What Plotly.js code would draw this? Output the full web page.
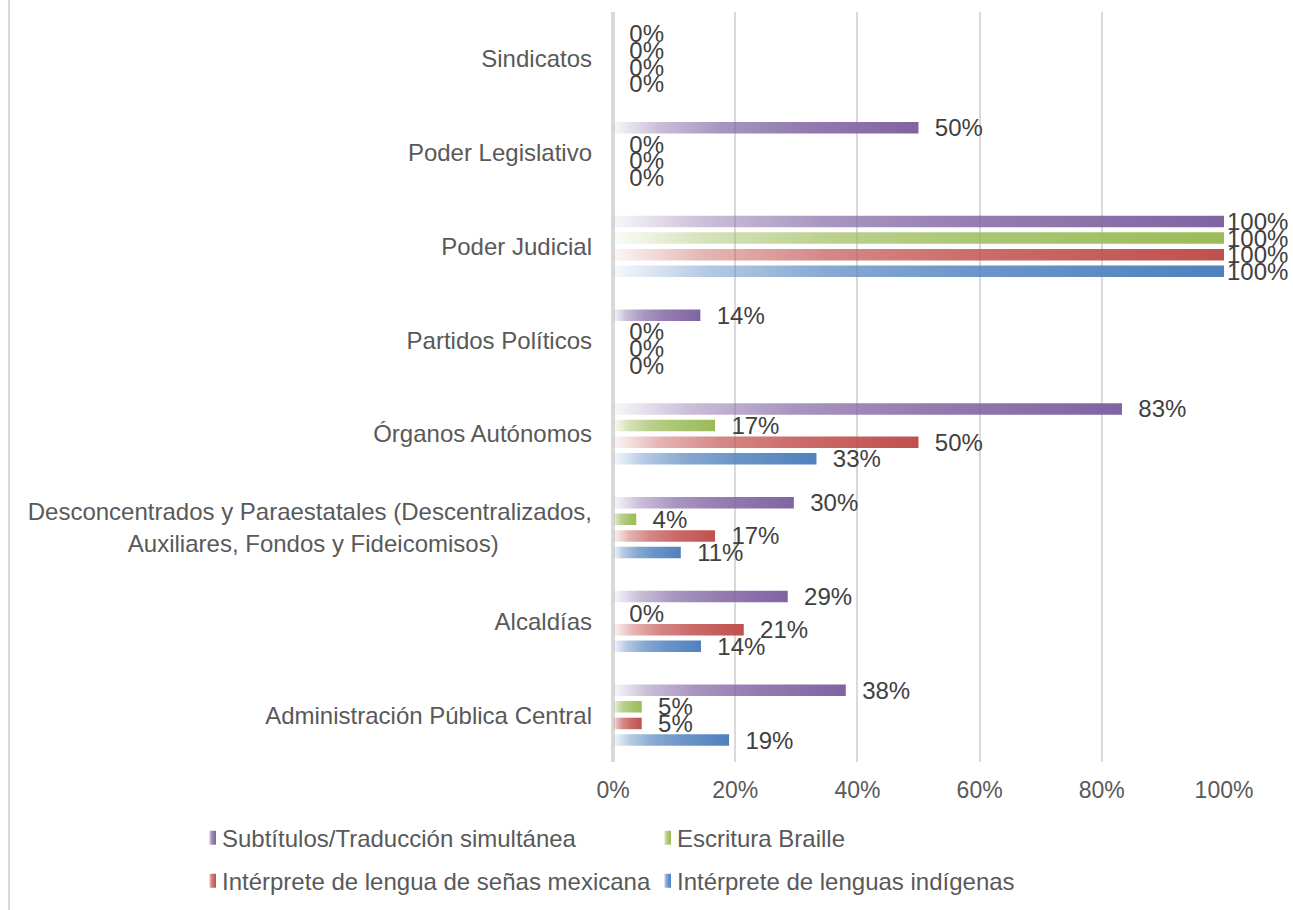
<!DOCTYPE html>
<html>
<head>
<meta charset="utf-8">
<script src="https://cdn.plot.ly/plotly-3.0.1.min.js"></script>
<style>
html,body{margin:0;padding:0;background:#ffffff;}
#chart{width:1293px;height:910px;}
</style>
</head>
<body>
<div id="chart"></div>
<script>
// Categories, bottom to top (Plotly draws the first category at the bottom)
const categories = [
  "Administración Pública Central",
  "Alcaldías",
  "Desconcentrados y Paraestatales",
  "Órganos Autónomos",
  "Partidos Políticos",
  "Poder Judicial",
  "Poder Legislativo",
  "Sindicatos"
];
const tickLabels = [
  "Administración Pública Central",
  "Alcaldías",
  "Desconcentrados y Paraestatales (Descentralizados,<br>Auxiliares, Fondos y Fideicomisos)\u00a0\u00a0\u00a0\u00a0\u00a0\u00a0\u00a0\u00a0\u00a0\u00a0\u00a0\u00a0\u00a0\u00a0",
  "Órganos Autónomos",
  "Partidos Políticos",
  "Poder Judicial",
  "Poder Legislativo",
  "Sindicatos"
];

// Series (shares, 0..1), same order as categories
const indigenas  = [0.190, 0.144, 0.111, 0.333, 0,     1, 0,   0];
const senas      = [0.047, 0.214, 0.167, 0.500, 0,     1, 0,   0];
const braille    = [0.047, 0,     0.038, 0.167, 0,     1, 0,   0];
const subtitulos = [0.381, 0.286, 0.296, 0.833, 0.143, 1, 0.5, 0];

const seriesNames = [
  "Intérprete de lenguas indígenas",
  "Intérprete de lengua de señas mexicana",
  "Escritura Braille",
  "Subtítulos/Traducción simultánea"
];
const seriesValues = [indigenas, senas, braille, subtitulos];
const seriesColors = ["#4F81BD", "#C0504D", "#9BBB59", "#8064A2"];
const seriesLegend = ["legend2", "legend2", "legend", "legend"];

const FONT = '"Liberation Sans", Arial, sans-serif';

// labels that would run past the chart edge are pulled in to the bar end (as in the original)
const labelTemplate = v => (v >= 1 ? "%{x:.0%}" : "\u00a0\u00a0%{x:.0%}");

const traces = seriesValues.map((vals, i) => ({
  type: "bar",
  orientation: "h",
  y: categories,
  x: vals,
  name: seriesNames[i],
  legend: seriesLegend[i],
  marker: {color: seriesColors[i], line: {width: 0}},
  texttemplate: vals.map(labelTemplate),
  textposition: "outside",
  constraintext: "none",
  cliponaxis: false,
  textfont: {family: FONT, size: 24, color: "#404040"},
  hoverinfo: "skip"
}));

const legendBase = {
  orientation: "h",
  traceorder: "reversed",
  x: -0.7054, xanchor: "left",
  yanchor: "top",
  entrywidth: 410,
  entrywidthmode: "pixels",
  font: {family: FONT, size: 24, color: "#595959"},
  bgcolor: "rgba(0,0,0,0)"
};

const layout = {
  width: 1293,
  height: 910,
  margin: {l: 613, r: 69, t: 12, b: 148, pad: 0, autoexpand: false},
  paper_bgcolor: "#ffffff",
  plot_bgcolor: "#ffffff",
  font: {family: FONT, size: 23, color: "#595959"},
  barmode: "group",
  bargap: 0.289,
  bargroupgap: 0.31,
  showlegend: true,
  xaxis: {
    range: [0, 1],
    tick0: 0,
    dtick: 0.2,
    tickformat: ".0%",
    showgrid: true,
    gridcolor: "#D9D9D9",
    gridwidth: 2,
    zeroline: true,
    zerolinecolor: "#D9D9D9",
    zerolinewidth: 4,
    showline: false,
    ticks: "",
    ticklabelstandoff: 12,
    tickfont: {family: FONT, size: 23, color: "#595959"},
    automargin: false,
    fixedrange: true
  },
  yaxis: {
    type: "category",
    categoryorder: "array",
    categoryarray: categories,
    tickvals: categories,
    ticktext: tickLabels,
    showgrid: false,
    zeroline: false,
    showline: false,
    ticks: "",
    ticklabelstandoff: 20,
    tickfont: {family: FONT, size: 24, color: "#595959"},
    automargin: false,
    fixedrange: true
  },
  legend: Object.assign({}, legendBase, {y: -0.0716}),
  legend2: Object.assign({}, legendBase, {y: -0.1289}),
  shapes: [{
    type: "line", xref: "paper", yref: "paper",
    x0: -0.9885, x1: -0.9885, y0: -0.2, y1: 1.02,
    line: {color: "#D9D9D9", width: 2}
  }]
};

function applyGradients(gd) {
  const svg = gd.querySelector("svg.main-svg");
  const defs = svg.querySelector("defs");
  const NS = "http://www.w3.org/2000/svg";
  const stops = [[0, 0.05], [0.15, 0.42], [0.35, 0.68], [0.6, 0.84], [1, 1]];
  seriesColors.forEach((c, i) => {
    const g = document.createElementNS(NS, "linearGradient");
    g.setAttribute("id", "barGrad" + i);
    g.setAttribute("x1", "0"); g.setAttribute("y1", "0");
    g.setAttribute("x2", "1"); g.setAttribute("y2", "0");
    stops.forEach(s => {
      const st = document.createElementNS(NS, "stop");
      st.setAttribute("offset", s[0]);
      st.setAttribute("stop-color", c);
      st.setAttribute("stop-opacity", s[1]);
      g.appendChild(st);
    });
    defs.appendChild(g);
  });
  gd.querySelectorAll(".barlayer .trace.bars").forEach(tr => {
    const idx = tr.__data__[0].trace.index;
    tr.querySelectorAll(".point path").forEach(p => {
      p.style.fill = "url(#barGrad" + idx + ")";
    });
  });
  gd.querySelectorAll(".infolayer g.traces").forEach(t => {
    const d = t.__data__;
    if (!d || !d[0] || !d[0].trace) return;
    const idx = d[0].trace.index;
    t.querySelectorAll(".legendpoints path").forEach(p => {
      p.setAttribute("d", "M7,-7H14V7H7Z");
      p.style.fill = "url(#barGrad" + idx + ")";
      p.style.stroke = "none";
    });
  });
}

Plotly.newPlot("chart", traces, layout, {staticPlot: true, displayModeBar: false})
  .then(applyGradients);
</script>
</body>
</html>
